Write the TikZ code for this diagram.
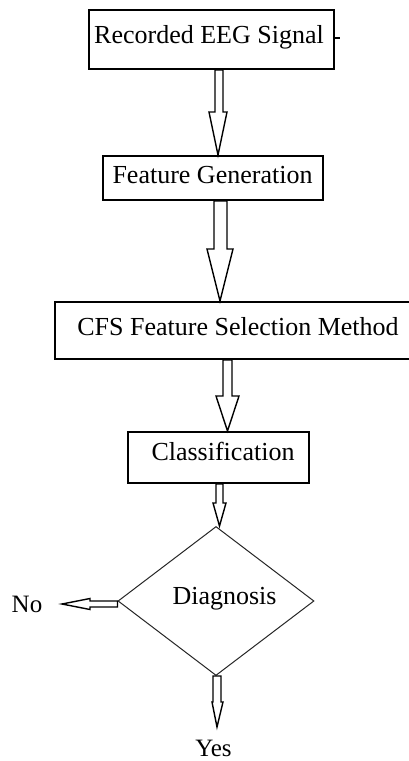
\documentclass[tikz,border=0pt]{standalone}
\usepackage{fontspec}
\setmainfont{Liberation Serif}
\usetikzlibrary{shapes.geometric,calc}
\tikzset{
  box/.style={draw=black, line width=2pt, rectangle, inner sep=0pt},
  txt/.style={anchor=base, inner sep=0pt, font=\fontsize{26}{30}\selectfont},
  smalltxt/.style={anchor=base, inner sep=0pt, font=\fontsize{25}{30}\selectfont},
  arr/.style={draw=black, line width=1.4pt, fill=white, line join=miter},
  dia/.style={draw=black!85, line width=1pt, diamond, inner sep=0pt,
              minimum width=196pt, minimum height=149pt},
}
% from, to, xl, xr, hl, hr, xtip, headlength
\newcommand\blkdown[8]{%
  \draw[arr] (#3,0 |- #1) -- ([yshift=#8pt]#3,0 |- #2) -- ([yshift=#8pt]#5,0 |- #2)
    -- (#7,0 |- #2) -- ([yshift=#8pt]#6,0 |- #2) -- ([yshift=#8pt]#4,0 |- #2)
    -- (#4,0 |- #1) -- cycle;
}
\begin{document}
\begin{tikzpicture}[x=1pt,y=-1pt]
  \useasboundingbox[fill=white] (0,0) rectangle (409,761);
  \clip (0,0) rectangle (409,761);

  % boxes
  \node[box, minimum width=245pt, minimum height=59pt] (b1) at (211.5,39.5) {};
  \node[box, minimum width=220pt, minimum height=44pt] (b2) at (213,178) {};
  \node[box, minimum width=366pt, minimum height=57pt] (b3) at (238,330.5) {};
  \node[box, minimum width=181pt, minimum height=51pt] (b4) at (218.5,457.5) {};
  \node[dia] (dg) at (216,601) {};

  % texts
  \node[txt] (t1) at (209,43) {Recorded EEG Signal};
  \node[txt] (t2) at (212.5,183) {Feature Generation};
  \node[txt] (t3) at (238,335) {CFS Feature Selection Method};
  \node[txt] (t4) at (223,460) {Classification};
  \node[txt] (t5) at (224.5,604) {Diagnosis};
  \node[smalltxt] (no) at (27,612) {No};
  \node[smalltxt] (yes) at (213.5,756.5) {Yes};

  % small tick at right of first box
  \coordinate (tick) at (340,38);
  \draw[line width=1.2pt] (b1.east |- tick) -- (tick);

  % block arrows
  \blkdown{b1.south}{b2.north}{215}{223}{209}{227}{218}{43}
  \blkdown{b2.south}{b3.north}{214}{227}{207}{233}{220}{52}
  \blkdown{b3.south}{b4.north}{223}{232}{216}{239}{227.5}{35}
  \blkdown{b4.south}{dg.north}{216}{223}{213}{226}{219.5}{23}

  \coordinate (yesend) at (217,727);
  \blkdown{dg.south}{yesend}{213}{221}{212}{223}{217}{25}

  \coordinate (noend) at (62,604);
  \draw[arr] (dg.west |- 0,601) -- ([xshift=28pt]noend |- 0,601)
    -- ([xshift=28pt]noend |- 0,598.5) -- (noend)
    -- ([xshift=28pt]noend |- 0,609.5) -- ([xshift=28pt]noend |- 0,607)
    -- (dg.west |- 0,607) -- cycle;
\end{tikzpicture}
\end{document}
